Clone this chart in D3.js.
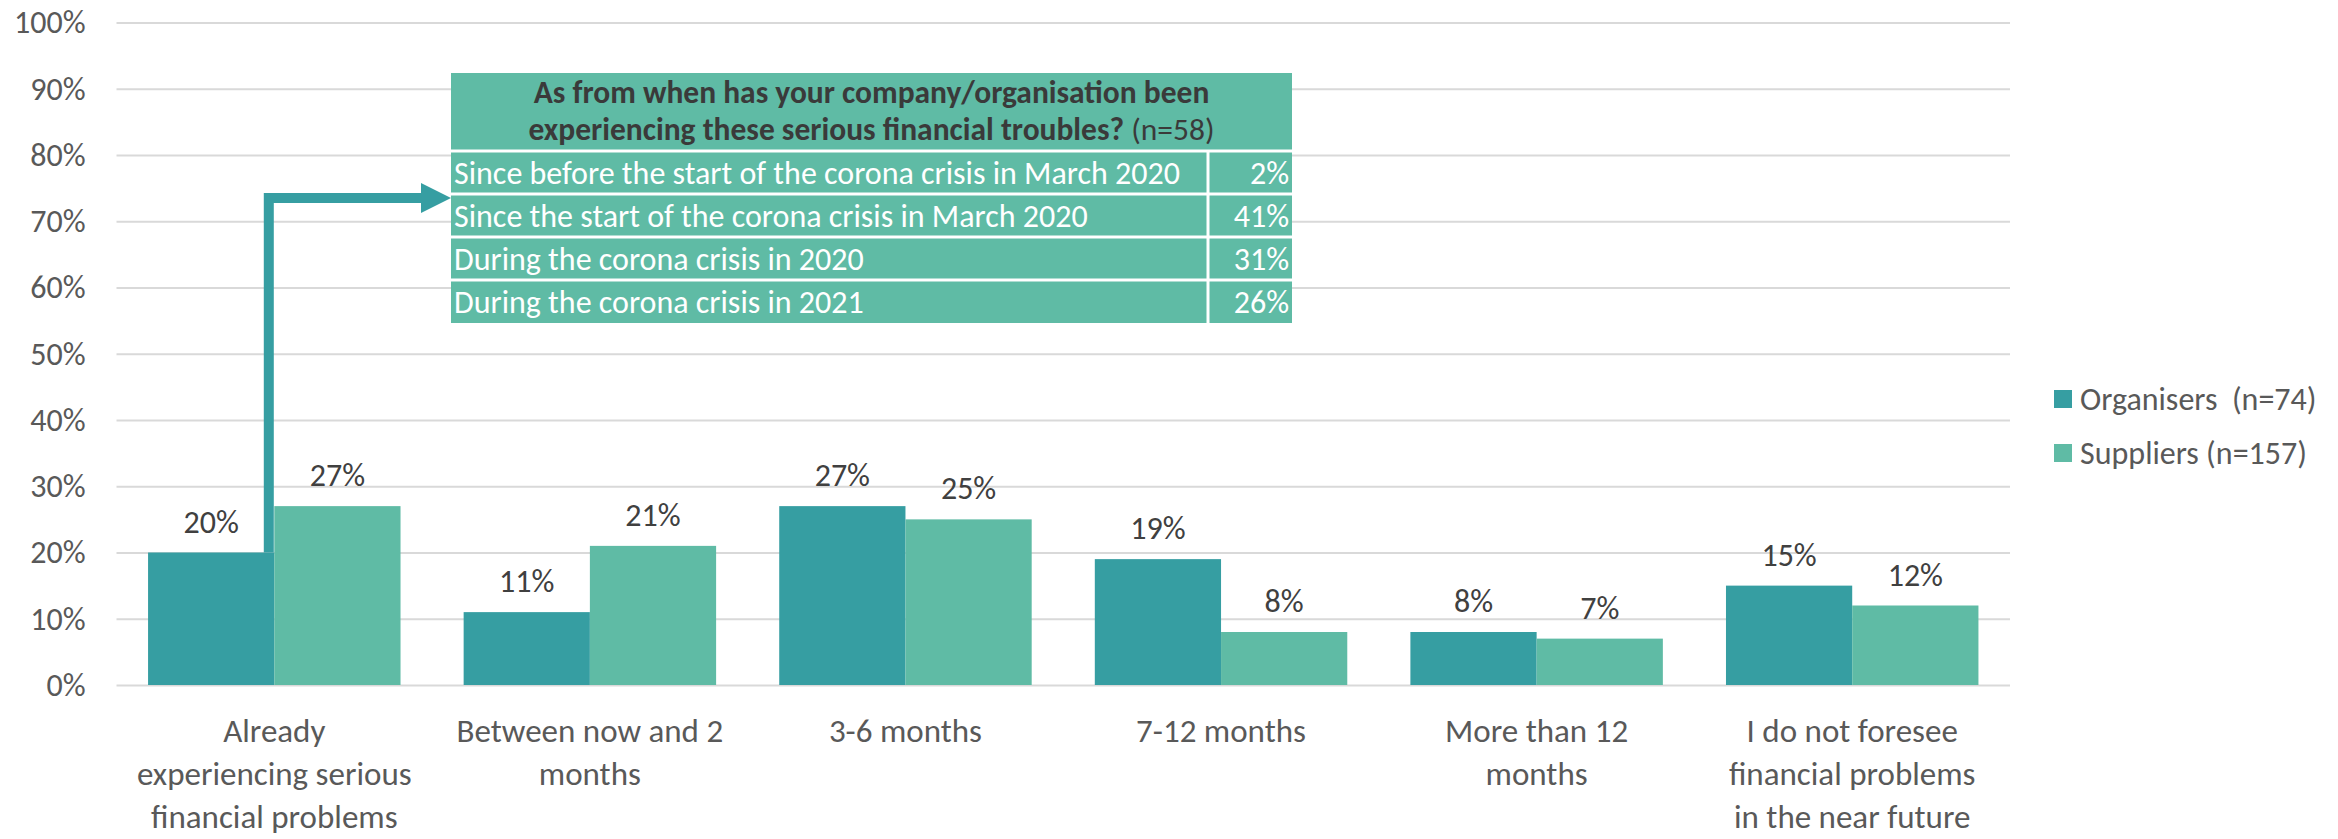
<!DOCTYPE html>
<html>
<head>
<meta charset="utf-8">
<script src="https://cdn.jsdelivr.net/npm/d3@7"></script>
<style>
  body { margin: 0; background: #fff; }
  svg { display: block; font-family: Carlito, Calibri, Lato, sans-serif; }
</style>
</head>
<body>
<div id="chart"></div>
<script>
// chart data
var categories = [
    "Already\nexperiencing serious\nfinancial problems",
    "Between now and 2\nmonths",
    "3-6 months",
    "7-12 months",
    "More than 12\nmonths",
    "I do not foresee\nfinancial problems\nin the near future"
];
var seriesNames = ["Organisers  (n=74)", "Suppliers (n=157)"];
var organisers = [0.20, 0.11, 0.27, 0.19, 0.08, 0.15];
var suppliers = [0.27, 0.21, 0.25, 0.08, 0.07, 0.12];
var yTicks = [0, 0.1, 0.2, 0.3, 0.4, 0.5, 0.6, 0.7, 0.8, 0.9, 1];

// inset table
var tableTitle = "As from when has your company/organisation been";
var tableTitle2 = "experiencing these serious financial troubles?";
var tableN = "(n=58)";
var tableRows = [
    "Since before the start of the corona crisis in March 2020",
    "Since the start of the corona crisis in March 2020",
    "During the corona crisis in 2020",
    "During the corona crisis in 2021"
];
var tableValues = [0.02, 0.41, 0.31, 0.26];

var colors = ["#369ea2", "#5fbba5"];

var W = 2338, H = 839;
var margin = { top: 22.5, right: 328, bottom: 154, left: 116.5 },
    width = W - margin.left - margin.right,
    height = H - margin.top - margin.bottom;

var svg = d3.select("#chart").append("svg")
    .attr("width", W)
    .attr("height", H);

var g = svg.append("g")
    .attr("transform", "translate(" + margin.left + "," + margin.top + ")");

var x0 = d3.scaleBand()
    .domain(categories)
    .range([0, width])
    .paddingInner(0.2)
    .paddingOuter(0.1);

var x1 = d3.scaleBand()
    .domain([0, 1])
    .range([0, x0.bandwidth()]);

var y = d3.scaleLinear().domain([0, 1]).range([height, 0]);

// grid + y labels
var yAxis = g.append("g")
    .call(d3.axisLeft(y).tickValues(yTicks).tickSize(-width).tickPadding(31).tickFormat(d3.format(".0%")));
yAxis.select(".domain").remove();
yAxis.selectAll(".tick line").attr("stroke", "#d9d9d9").attr("stroke-width", 2);
yAxis.selectAll(".tick text")
    .attr("fill", "#595959")
    .style("font-size", "32px")
    .style("font-family", "Carlito, Calibri, Lato, sans-serif");

// bars
var groups = g.append("g").selectAll("g")
    .data(categories)
    .enter()
    .append("g")
    .attr("transform", function (d) { return "translate(" + x0(d) + ",0)"; });

groups.selectAll("rect")
    .data(function (d, i) { return [organisers[i], suppliers[i]]; })
    .enter()
    .append("rect")
    .attr("x", function (d, j) { return x1(j); })
    .attr("y", function (d) { return y(d); })
    .attr("width", x1.bandwidth())
    .attr("height", function (d) { return height - y(d); })
    .attr("fill", function (d, j) { return colors[j]; });

groups.selectAll("text.val")
    .data(function (d, i) { return [organisers[i], suppliers[i]]; })
    .enter()
    .append("text")
    .attr("class", "val")
    .attr("x", function (d, j) { return x1(j) + x1.bandwidth() / 2; })
    .attr("y", function (d) { return y(d) - 20; })
    .attr("text-anchor", "middle")
    .attr("fill", "#404040")
    .style("font-size", "32px")
    .text(function (d) { return d3.format(".0%")(d); });

// category labels
g.append("g").selectAll("text")
    .data(categories)
    .enter()
    .append("text")
    .attr("text-anchor", "middle")
    .attr("fill", "#595959")
    .style("font-size", "33px")
    .each(function (d) {
        var t = d3.select(this);
        d.split("\n").forEach(function (line, k) {
            t.append("tspan")
                .attr("x", x0(d) + x0.bandwidth() / 2)
                .attr("y", height + 57 + k * 43)
                .text(line);
        });
    });

// arrow from first bar to table
var arrowX = margin.left + x0(categories[0]) + x1(0) + x1.bandwidth() - 5.5;
var tableLeft = 451, tableRight = 1292, tableTop = 73, headBottom = 151, tableBottom = 323, valDivider = 1208;
var arrowY = 198;
svg.append("path")
    .attr("d", "M" + arrowX + "," + (margin.top + y(organisers[0])) + "V" + arrowY + "H" + (tableLeft - 28))
    .attr("fill", "none")
    .attr("stroke", colors[0])
    .attr("stroke-width", 10);
svg.append("path")
    .attr("d", "M" + (tableLeft - 30) + "," + (arrowY - 15) + "L" + tableLeft + "," + arrowY + "L" + (tableLeft - 30) + "," + (arrowY + 15) + "Z")
    .attr("fill", colors[0]);

// table
var tbl = svg.append("g");
tbl.append("rect")
    .attr("x", tableLeft).attr("y", tableTop)
    .attr("width", tableRight - tableLeft).attr("height", tableBottom - tableTop)
    .attr("fill", colors[1]);

var rowY = d3.scaleBand().domain(tableRows).range([headBottom, tableBottom]);

tbl.selectAll("line.row")
    .data(tableRows)
    .enter()
    .append("line")
    .attr("x1", tableLeft).attr("x2", tableRight)
    .attr("y1", function (d) { return rowY(d); })
    .attr("y2", function (d) { return rowY(d); })
    .attr("stroke", "#fff").attr("stroke-width", 3);
tbl.append("line")
    .attr("x1", valDivider).attr("x2", valDivider)
    .attr("y1", headBottom).attr("y2", tableBottom)
    .attr("stroke", "#fff").attr("stroke-width", 3);

var mid = (tableLeft + tableRight) / 2;
tbl.append("text")
    .attr("x", mid).attr("y", 103)
    .attr("text-anchor", "middle")
    .attr("fill", "#3a3a3a")
    .style("font-size", "31.5px").style("font-weight", "bold")
    .text(tableTitle);
var t2 = tbl.append("text")
    .attr("x", mid).attr("y", 140)
    .attr("text-anchor", "middle")
    .attr("fill", "#3a3a3a")
    .style("font-size", "31.5px");
t2.append("tspan").style("font-weight", "bold").text(tableTitle2 + " ");
t2.append("tspan").text(tableN);

tbl.selectAll("text.rl")
    .data(tableRows)
    .enter()
    .append("text")
    .attr("class", "rl")
    .attr("x", tableLeft + 3)
    .attr("y", function (d) { return rowY(d) + rowY.bandwidth() / 2 + 11; })
    .attr("fill", "#fff")
    .style("font-size", "32px")
    .text(function (d) { return d; });

tbl.selectAll("text.rv")
    .data(tableValues)
    .enter()
    .append("text")
    .attr("class", "rv")
    .attr("x", tableRight - 3)
    .attr("y", function (d, i) { return rowY(tableRows[i]) + rowY.bandwidth() / 2 + 11; })
    .attr("text-anchor", "end")
    .attr("fill", "#fff")
    .style("font-size", "32px")
    .text(function (d) { return d3.format(".0%")(d); });

// legend
var legend = svg.append("g").selectAll("g")
    .data(seriesNames)
    .enter()
    .append("g")
    .attr("transform", function (d, i) { return "translate(2054," + (399 + i * 54) + ")"; });
legend.append("rect")
    .attr("x", 0).attr("y", -9)
    .attr("width", 18).attr("height", 18)
    .attr("fill", function (d, i) { return colors[i]; });
legend.append("text")
    .attr("x", 26).attr("y", 11)
    .attr("fill", "#595959")
    .style("font-size", "32px")
    .style("white-space", "pre")
    .attr("xml:space", "preserve")
    .text(function (d) { return d; });
</script>
</body>
</html>
